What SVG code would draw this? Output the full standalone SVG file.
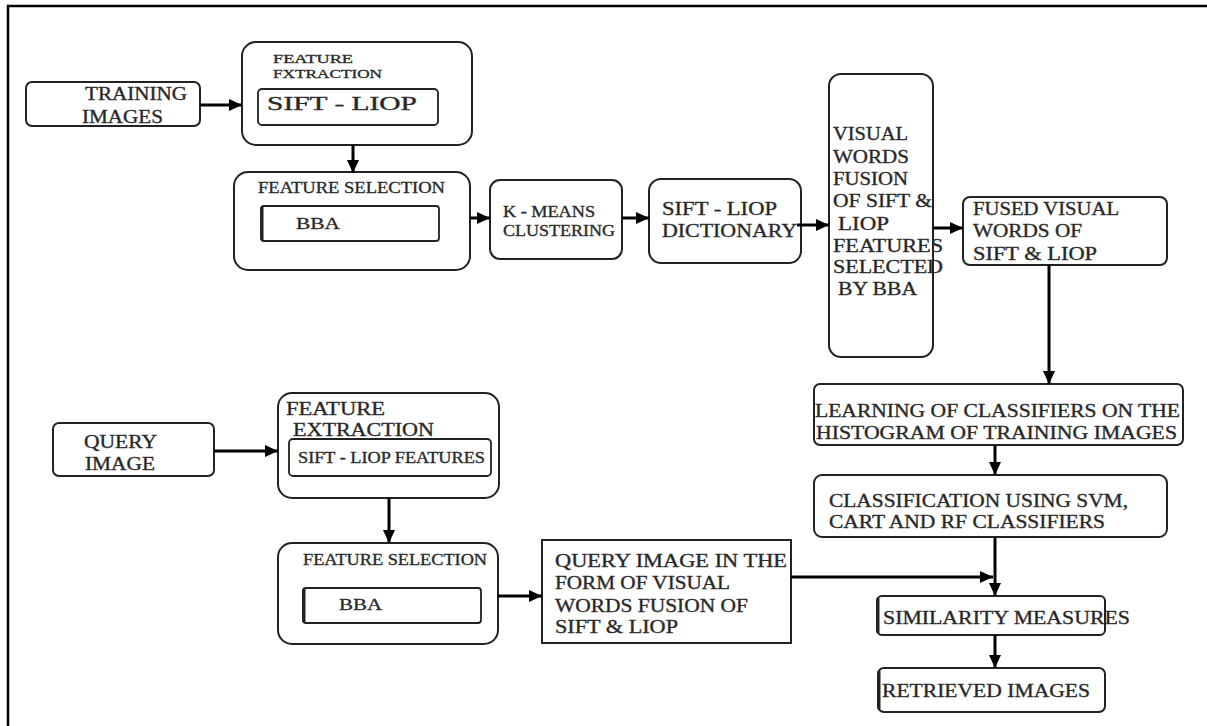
<svg xmlns="http://www.w3.org/2000/svg" width="1207" height="726" viewBox="0 0 1207 726">
<style>
.bx{fill:#fff;stroke:#222;stroke-width:2}
.ib{fill:none;stroke:#222;stroke-width:1.8}
.t{font-family:"Liberation Serif","Times New Roman",serif;fill:#262626;stroke:#333;stroke-width:0.35;font-size:18px}
.s{font-size:16px}
.xs{font-size:13px}
.c{stroke:#000;stroke-width:3;fill:none}
.fr{stroke:#000;stroke-width:2.5;fill:none}
</style>
<defs>
<marker id="ah" markerUnits="userSpaceOnUse" markerWidth="14" markerHeight="12" refX="13" refY="6" orient="auto">
<path d="M0,0 L13,6 L0,12 z" fill="#000"/>
</marker>
</defs>
<rect width="1207" height="726" fill="#fff"/>
<path class="fr" d="M8,726 L8,6 L1207,6"/>

<g id="training">
<rect class="bx" x="26" y="82" width="174" height="44" rx="6"/>
<text class="t" x="85" y="100" textLength="102" lengthAdjust="spacingAndGlyphs">TRAINING</text>
<text class="t" x="82" y="123" textLength="81" lengthAdjust="spacingAndGlyphs">IMAGES</text>
</g>

<g id="fe-train">
<rect class="bx" x="242" y="42" width="230" height="103" rx="14"/>
<text class="t xs" x="273" y="63" textLength="80" lengthAdjust="spacingAndGlyphs">FEATURE</text>
<text class="t xs" x="273" y="78" textLength="109" lengthAdjust="spacingAndGlyphs">FXTRACTION</text>
<rect class="ib" x="258" y="89" width="180" height="36" rx="4"/>
<text class="t" x="267" y="110" textLength="150" lengthAdjust="spacingAndGlyphs">SIFT - LIOP</text>
</g>

<g id="fs-train">
<rect class="bx" x="234" y="172" width="236" height="98" rx="14"/>
<text class="t s" x="258" y="193" textLength="187" lengthAdjust="spacingAndGlyphs">FEATURE SELECTION</text>
<rect class="ib" x="261" y="206" width="178" height="35" rx="3"/>
<path d="M262,207 L262,240" stroke="#222" stroke-width="3"/>
<text class="t s" x="296" y="229" textLength="44" lengthAdjust="spacingAndGlyphs">BBA</text>
</g>

<g id="kmeans">
<rect class="bx" x="490" y="180" width="132" height="79" rx="10"/>
<text class="t s" x="503" y="217" textLength="92" lengthAdjust="spacingAndGlyphs">K - MEANS</text>
<text class="t s" x="503" y="236" textLength="112" lengthAdjust="spacingAndGlyphs">CLUSTERING</text>
</g>

<g id="dictionary">
<rect class="bx" x="649" y="179" width="152" height="84" rx="12"/>
<text class="t" x="662" y="215" textLength="115" lengthAdjust="spacingAndGlyphs">SIFT - LIOP</text>
<text class="t" x="662" y="237" textLength="135" lengthAdjust="spacingAndGlyphs">DICTIONARY</text>
</g>

<g id="visual-words">
<rect class="bx" x="829" y="74" width="104" height="283" rx="12"/>
<text class="t" x="833" y="140" textLength="75" lengthAdjust="spacingAndGlyphs">VISUAL</text>
<text class="t" x="833" y="163" textLength="76" lengthAdjust="spacingAndGlyphs">WORDS</text>
<text class="t" x="833" y="185" textLength="75" lengthAdjust="spacingAndGlyphs">FUSION</text>
<text class="t" x="833" y="207" textLength="99" lengthAdjust="spacingAndGlyphs">OF SIFT &amp;</text>
<text class="t" x="838" y="230" textLength="51" lengthAdjust="spacingAndGlyphs">LIOP</text>
<text class="t" x="833" y="252" textLength="110" lengthAdjust="spacingAndGlyphs">FEATURES</text>
<text class="t" x="833" y="273" textLength="110" lengthAdjust="spacingAndGlyphs">SELECTED</text>
<text class="t" x="838" y="295" textLength="79" lengthAdjust="spacingAndGlyphs">BY BBA</text>
</g>

<g id="fused">
<rect class="bx" x="963" y="197" width="204" height="68" rx="7"/>
<text class="t" x="973" y="215" textLength="146" lengthAdjust="spacingAndGlyphs">FUSED VISUAL</text>
<text class="t" x="973" y="237" textLength="109" lengthAdjust="spacingAndGlyphs">WORDS OF</text>
<text class="t" x="973" y="260" textLength="124" lengthAdjust="spacingAndGlyphs">SIFT &amp; LIOP</text>
</g>

<g id="learning">
<rect class="bx" x="814" y="384" width="369" height="61" rx="6"/>
<text class="t" x="815" y="417" textLength="365" lengthAdjust="spacingAndGlyphs">LEARNING OF CLASSIFIERS ON THE</text>
<text class="t" x="816" y="439" textLength="361" lengthAdjust="spacingAndGlyphs">HISTOGRAM OF TRAINING IMAGES</text>
</g>

<g id="classification">
<rect class="bx" x="814" y="475" width="353" height="62" rx="8"/>
<text class="t" x="829" y="507" textLength="299" lengthAdjust="spacingAndGlyphs">CLASSIFICATION USING SVM,</text>
<text class="t" x="829" y="528" textLength="276" lengthAdjust="spacingAndGlyphs">CART AND RF CLASSIFIERS</text>
</g>

<g id="similarity">
<rect class="bx" x="877" y="596" width="228" height="39" rx="5"/>
<path d="M878,598 L878,633" stroke="#222" stroke-width="3"/>
<text class="t" x="883" y="624" textLength="247" lengthAdjust="spacingAndGlyphs">SIMILARITY MEASURES</text>
</g>

<g id="retrieved">
<rect class="bx" x="878" y="668" width="227" height="44" rx="6"/>
<path d="M879,671 L879,709" stroke="#222" stroke-width="3"/>
<text class="t" x="882" y="697" textLength="208" lengthAdjust="spacingAndGlyphs">RETRIEVED IMAGES</text>
</g>

<g id="query">
<rect class="bx" x="53" y="423" width="161" height="53" rx="6"/>
<text class="t" x="84" y="448" textLength="73" lengthAdjust="spacingAndGlyphs">QUERY</text>
<text class="t" x="85" y="470" textLength="70" lengthAdjust="spacingAndGlyphs">IMAGE</text>
</g>

<g id="fe-query">
<rect class="bx" x="278" y="393" width="221" height="105" rx="14"/>
<text class="t" x="286" y="415" textLength="99" lengthAdjust="spacingAndGlyphs">FEATURE</text>
<text class="t" x="293" y="436" textLength="141" lengthAdjust="spacingAndGlyphs">EXTRACTION</text>
<rect class="ib" x="289" y="439" width="202" height="37" rx="4"/>
<text class="t s" x="298" y="463" textLength="187" lengthAdjust="spacingAndGlyphs">SIFT - LIOP FEATURES</text>
</g>

<g id="fs-query">
<rect class="bx" x="278" y="543" width="220" height="101" rx="14"/>
<text class="t s" x="303" y="565" textLength="184" lengthAdjust="spacingAndGlyphs">FEATURE SELECTION</text>
<rect class="ib" x="303" y="588" width="178" height="35" rx="3"/>
<path d="M304,589 L304,622" stroke="#222" stroke-width="3"/>
<text class="t s" x="339" y="610" textLength="43" lengthAdjust="spacingAndGlyphs">BBA</text>
</g>

<g id="query-words">
<rect class="bx" x="542" y="540" width="249" height="103"/>
<text class="t" x="555" y="567" textLength="232" lengthAdjust="spacingAndGlyphs">QUERY IMAGE IN THE</text>
<text class="t" x="555" y="589" textLength="175" lengthAdjust="spacingAndGlyphs">FORM OF VISUAL</text>
<text class="t" x="555" y="612" textLength="193" lengthAdjust="spacingAndGlyphs">WORDS FUSION OF</text>
<text class="t" x="555" y="633" textLength="123" lengthAdjust="spacingAndGlyphs">SIFT &amp; LIOP</text>
</g>

<g id="connectors">
<path class="c" d="M200,105 L242,105" marker-end="url(#ah)"/>
<path class="c" d="M353,145 L353,173" stroke-width="4" marker-end="url(#ah)"/>
<path class="c" d="M470,218 L490,218" marker-end="url(#ah)"/>
<path class="c" d="M622,218 L649,218" marker-end="url(#ah)"/>
<path class="c" d="M797,225 L829,225" marker-end="url(#ah)"/>
<path class="c" d="M933,228 L963,228" marker-end="url(#ah)"/>
<path class="c" d="M1049,265 L1049,384" stroke-width="5" marker-end="url(#ah)"/>
<path class="c" d="M995,445 L995,475" marker-end="url(#ah)"/>
<path class="c" d="M995,537 L995,596" marker-end="url(#ah)"/>
<path class="c" d="M791,577 L993,577" marker-end="url(#ah)"/>
<path class="c" d="M995,635 L995,668" marker-end="url(#ah)"/>
<path class="c" d="M214,451 L278,451" marker-end="url(#ah)"/>
<path class="c" d="M389,498 L389,543" marker-end="url(#ah)"/>
<path class="c" d="M498,596 L542,596" marker-end="url(#ah)"/>
</g>
</svg>
